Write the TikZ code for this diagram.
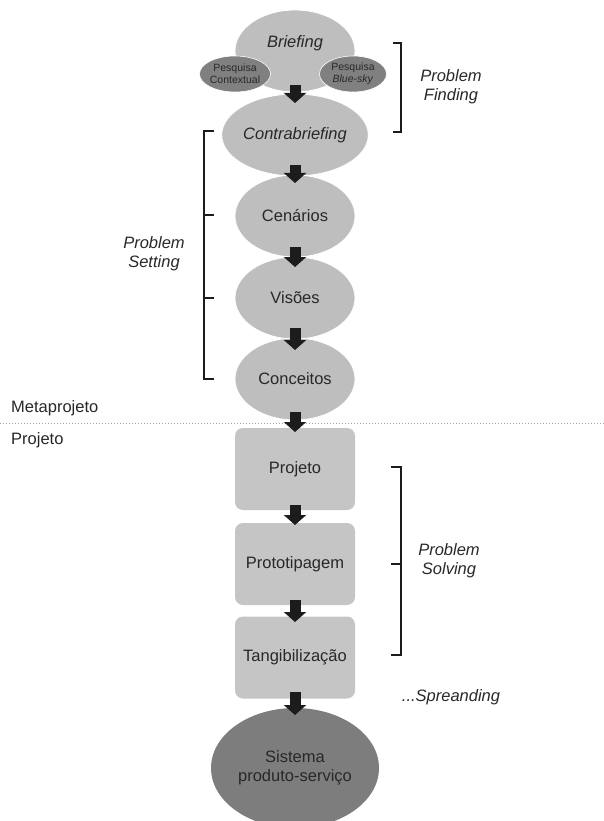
\documentclass[tikz,border=0pt]{standalone}
\usepackage{fontspec}
\setmainfont{Liberation Sans}
\usetikzlibrary{shapes.geometric,arrows.meta}

\definecolor{phasefill}{RGB}{190,190,190}
\definecolor{stagefill}{RGB}{197,197,197}
\definecolor{researchfill}{RGB}{128,128,128}
\definecolor{resultfill}{RGB}{125,125,125}
\definecolor{inkcol}{RGB}{40,40,40}
\definecolor{arrowcol}{RGB}{28,28,28}
\definecolor{dotcol}{RGB}{165,165,165}

\begin{document}
\begin{tikzpicture}[x=1pt,y=-1pt,
  mainfont/.style={font=\fontsize{16.5}{19}\selectfont},
  phase/.style={ellipse, fill=phasefill, draw=white, line width=0.8pt,
    minimum width=120pt, minimum height=82pt, inner sep=0pt,
    text=inkcol, mainfont},
  research/.style={ellipse, fill=researchfill, draw=white, line width=0.6pt,
    minimum width=67pt, minimum height=36pt, inner sep=0pt, align=center,
    text=inkcol, font=\fontsize{10.5}{12}\selectfont},
  stagebox/.style={rectangle, rounded corners=8pt, fill=stagefill,
    minimum width=120pt, minimum height=82pt, inner sep=0pt,
    text=inkcol, mainfont},
  result/.style={ellipse, fill=resultfill, minimum width=168pt,
    minimum height=120pt, inner sep=0pt, align=center, text=inkcol, mainfont},
  % block arrow drawn between node centres, trimmed to its visible length
  flow/.style 2 args={draw=arrowcol, line width=11pt,
    -{Triangle[width=22pt,length=10pt]}, shorten <=#1pt, shorten >=#2pt},
  bracket/.style={draw=arrowcol, line width=2.7pt, line join=miter},
  note/.style={align=center, text=inkcol, font=\itshape\fontsize{16.5}{19}\selectfont},
  sidelabel/.style={anchor=west, text=inkcol, mainfont, inner sep=0pt}
]
\useasboundingbox (0,0) rectangle (604,821);

% separator between the meta-project and the project phase
\draw[dotcol, line width=1pt, dash pattern=on 1pt off 2pt] (0,423) -- (604,423);
\node[sidelabel] (metalabel) at (11,408) {Metaprojeto};
\node[sidelabel] (projlabel) at (11,440) {Projeto};

% meta-project phases
\node[phase] (briefing) at (295,51) {};
\node[text=inkcol, font=\itshape\fontsize{16.5}{19}\selectfont] (briefingtext) at (295,43) {Briefing};
\node[research] (contextual) at (235,74) {Pesquisa\\Contextual};
\node[research] (bluesky) at (353,74) {Pesquisa\\\textit{Blue-sky}};
\node[phase, font=\itshape\fontsize{16.5}{19}\selectfont] (contra) at (295,135) {Contrabriefing};
\node[phase] (cenarios) at (295,216) {Cenários};
\node[phase] (visoes) at (295,298) {Visões};
\node[phase] (conceitos) at (295,379) {Conceitos};

% project stages
\node[stagebox] (projeto) at (295,469) {Projeto};
\node[stagebox] (prototipagem) at (295,564) {Prototipagem};
\node[stagebox] (tangib) at (295,657.5) {Tangibilização};
\node[result] (sistema) at (295,768) {Sistema\\produto-serviço};

% flow arrows
\draw[flow={34}{32}] (briefing.center) -- (contra.center);
\draw[flow={30}{33}] (contra.center) -- (cenarios.center);
\draw[flow={31}{31}] (cenarios.center) -- (visoes.center);
\draw[flow={30}{29}] (visoes.center) -- (conceitos.center);
\draw[flow={33}{37}] (conceitos.center) -- (projeto.center);
\draw[flow={36}{39}] (projeto.center) -- (prototipagem.center);
\draw[flow={36}{35.5}] (prototipagem.center) -- (tangib.center);
\draw[flow={34.5}{53}] (tangib.center) -- (sistema.center);

% brackets grouping the phases
\draw[bracket] (393,43) -- (401,43) -- (401,132) -- (393,132);
\node[note] (finding) at (451,87) {Problem\\Finding};

\draw[bracket] (214,131) -- (204,131) -- (204,379) -- (214,379);
\draw[bracket] (204,215) -- (214,215);
\draw[bracket] (204,298) -- (214,298);
\node[note] (setting) at (154,254) {Problem\\Setting};

\draw[bracket] (391,467) -- (401,467) -- (401,655) -- (391,655);
\draw[bracket] (391,564) -- (401,564);
\node[note] (solving) at (449,561) {Problem\\Solving};

\node[note] (spreading) at (451,697) {...Spreanding};
\end{tikzpicture}
\end{document}
